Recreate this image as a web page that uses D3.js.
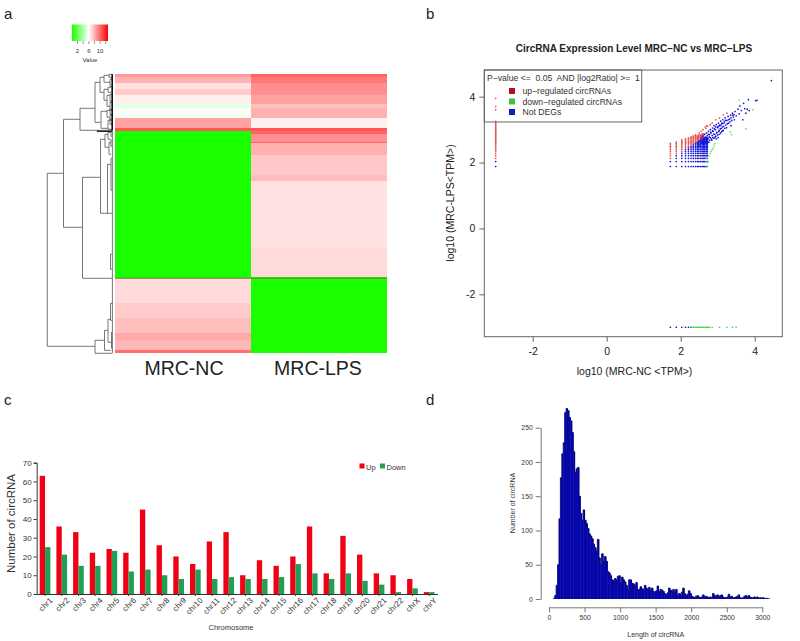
<!DOCTYPE html>
<html>
<head>
<meta charset="utf-8">
<script src="https://cdn.jsdelivr.net/npm/d3@7"></script>
<style>
body { margin: 0; background: #fff; }
svg { display: block; }
text { font-family: "Liberation Sans", Arial, sans-serif; }
</style>
</head>
<body>
<svg id="fig" width="800" height="641"></svg>
<script>
// panel a: heatmap bands, rows per band and value per sample
const sampleNames = ['MRC-NC', 'MRC-LPS'];
const bandRows = [3, 6, 6, 6, 9, 4, 10, 10, 3, 3, 8, 1, 12, 20, 6, 67, 29, 1, 25, 15, 15, 7, 10, 3];
const ncValues = [8.7, 8.1, 6.8, 7.4, 6.4, 5.3, 5.8, 8.5, 10.5, 0, 0, 0, 0, 0, 0, 0, 0, 0, 7, 7.4, 7.7, 8.3, 7.9, 9.8];
const lpsValues = [10.1, 9.6, 9, 9, 8.5, 7.7, 8.1, 6.4, 10.5, 10.1, 9, 10.1, 8.1, 7.5, 7.8, 6.8, 7, 0, 0, 0, 0, 0, 0, 0];
const keyTicks = [2, 4, 6, 8, 10, 12];
const keyLabels = [2, 6, 10];
// dendrogram merges: height, top row, top child height, bottom row, bottom child height
const merges = [
  [65.7, 99, 49.5, 272, 18], [49.5, 45, 33, 153, 30.5], [33, 34, 18, 56, 16], [30.5, 103, 12.5, 204, 1],
  [12.5, 65, 8, 139, 5.5], [18, 8, 13, 48, 12], [13, 3, 9, 18, 9], [9, 1, 4, 8, 3], [4, 0, 1, 3, 1], [3, 5, 1, 12, 1],
  [9, 15, 5, 26, 6], [5, 13, 2, 18, 2], [6, 21, 3, 32, 3], [3, 20, 1, 27, 1], [3, 28, 1, 36, 1],
  [12, 37, 6, 54, 5], [6, 36, 3, 43, 3], [3, 35, 1, 40, 1], [3, 41, 1, 46, 1], [5, 46, 3, 55, 1], [3, 45, 1, 50, 1],
  [16, 56, 1, 57, 1], [8, 60, 5, 73, 4], [5, 58, 2, 65, 2], [2, 57, 1, 62, 1], [4, 68, 2, 80, 2], [2, 66, 1, 72, 1],
  [5.5, 90, 2, 139, 1], [2, 84, 1, 116, 1], [2.5, 180, 1, 195, 1],
  [18, 266, 8.5, 279, 1], [8.5, 256, 5, 276, 2], [5, 245, 2.5, 268, 1.5], [2.5, 229, 1, 246, 1], [1.5, 258, 1, 274, 1]
];

// panel b: expression levels (log10 TPM)
const levels = [1.88, 2.03, 2.13, 2.21, 2.28, 2.34, 2.4, 2.45, 2.49, 2.54, 2.58, 2.62, 2.65, 2.69, 2.72, 2.75, 2.78, 2.81, 2.84, 2.87, 2.9];
const gridColumns = [1.72, 1.88, 2.03, 2.13, 2.21, 2.28, 2.34, 2.4, 2.45, 2.49, 2.54, 2.58, 2.62, 2.65, 2.69, 2.72];
const gridBlueTop = [1, 3, 4, 6, 7, 8, 9, 10, 11, 12, 13, 14, 15, 15, 15, 15];
const gridRedTop = [10, 11, 13, 14, 15, 16, 17, 18, 17, 18, 18, 19, 19, 15, 15, 15];
const cloudBlue = [[2.5, 2.52], [2.52, 2.66], [2.55, 2.6], [2.56, 2.75], [2.58, 2.68], [2.6, 2.62], [2.6, 2.8], [2.62, 2.56], [2.63, 2.72], [2.65, 2.86], [2.66, 2.63],
  [2.67, 2.7], [2.68, 2.78], [2.69, 2.6], [2.7, 2.67], [2.7, 2.9], [2.71, 2.74], [2.72, 2.82], [2.73, 2.62], [2.74, 2.72], [2.75, 2.95], [2.75, 2.86], [2.76, 2.62], [2.77, 2.78],
  [2.78, 2.85], [2.78, 2.68], [2.8, 2.76], [2.8, 3.0], [2.81, 2.92], [2.82, 2.9], [2.83, 2.72], [2.84, 2.68], [2.85, 2.82], [2.86, 3.05], [2.86, 2.96], [2.87, 2.76], [2.88, 2.95],
  [2.89, 2.86], [2.9, 2.74], [2.9, 3.12], [2.91, 3.02], [2.92, 2.86], [2.93, 2.78], [2.94, 3.0], [2.95, 2.8], [2.96, 3.15], [2.97, 2.9], [2.98, 2.92], [2.99, 3.08], [3.0, 3.06], [3.0, 2.84],
  [3.02, 3.2], [3.03, 2.94], [3.04, 2.98], [3.05, 3.14], [3.06, 3.12], [3.07, 3.02], [3.08, 2.9], [3.08, 3.26], [3.1, 3.04], [3.11, 3.2], [3.12, 3.18], [3.13, 2.96], [3.14, 3.3], [3.15, 2.98],
  [3.16, 3.1], [3.18, 3.24], [3.19, 3.04], [3.2, 3.36], [3.22, 3.14], [3.24, 3.06], [3.25, 3.28], [3.28, 3.4], [3.3, 3.2], [3.32, 3.32], [3.35, 3.44], [3.36, 3.12], [3.38, 3.28], [3.4, 3.5],
  [3.42, 3.38], [3.45, 3.3], [3.47, 3.55], [3.5, 3.42], [3.55, 3.62], [3.58, 3.48], [3.6, 3.72], [3.64, 3.58], [3.68, 3.3], [3.7, 3.8], [3.73, 3.64], [3.76, 3.5], [3.8, 3.62], [3.85, 3.58],
  [4.03, 3.88], [4.06, 3.89], [3.83, 3.91], [4.45, 4.49], [-3, 1.88], [-3, 2.03], [1.72, -3], [1.88, -3], [2.03, -3], [2.13, -3], [2.21, -3], [2.28, -3],
  [2.94, 3.08], [3.02, 3.1], [3.09, 3.14], [3.13, 3.08], [3.17, 3.2], [3.21, 3.28], [3.26, 3.18], [3.29, 3.3], [3.33, 3.24], [3.36, 3.36], [3.41, 3.44], [3.44, 3.46], [3.05, 2.86], [3.11, 2.94], [2.96, 2.72], [3.01, 2.76]];
const cloudRed = [[2.5, 2.9], [2.55, 2.95], [2.6, 3.0], [2.66, 3.08], [2.68, 3.04], [2.7, 3.12], [2.73, 3.1], [2.8, 3.15], [2.85, 3.2], [2.95, 3.3], [3.05, 3.35], [3.15, 3.45], [3.25, 3.5]];
const cloudGreen = [[2.72, 1.88], [2.7, 2.03], [2.75, 2.03], [2.7, 2.13], [2.76, 2.21], [2.8, 2.28], [2.82, 2.34], [2.85, 2.4], [2.88, 2.45], [2.9, 2.52], [2.93, 2.58],
  [3.34, 2.93], [3.37, 2.85], [3.76, 3.03], [3.95, 3.6], [3.58, 3.9]];
const leftColumnRed = [2.13, 2.21, 2.28, 2.34, 2.4, 2.45, 2.49, 2.54, 2.58, 2.62, 2.65, 2.69, 2.72, 2.75, 2.78, 2.81, 2.84, 2.87, 2.9, 2.93, 2.96, 2.99, 3.02, 3.05, 3.08, 3.11, 3.14, 3.17, 3.2, 3.25, 3.6, 3.7, 3.95];
const bottomRowGreen = [2.3, 2.33, 2.36, 2.39, 2.42, 2.45, 2.48, 2.51, 2.54, 2.57, 2.6, 2.63, 2.66, 2.69, 2.72, 2.75, 2.78, 2.85, 3.05, 3.25, 3.4, 3.5];
const scatterXTicks = [-2, 0, 2, 4];
const scatterYTicks = [-2, 0, 2, 4];
const legendNames = ['up\u2212regulated circRNAs', 'down\u2212regulated circRNAs', 'Not DEGs'];
const legendColors = ['#b01020', '#44c040', '#1020b0'];

// panel c: circRNA per chromosome
const chromosomes = ['chr1', 'chr2', 'chr3', 'chr4', 'chr5', 'chr6', 'chr7', 'chr8', 'chr9', 'chr10', 'chr11', 'chr12', 'chr13', 'chr14', 'chr15', 'chr16', 'chr17', 'chr18', 'chr19', 'chr20', 'chr21', 'chr22', 'chrX', 'chrY'];
const upCounts = [63, 36, 33, 22, 24, 22, 45, 26, 20, 16, 28, 33, 10, 18, 15, 20, 36, 11, 31, 21, 11, 10, 8, 1];
const downCounts = [25, 21, 15, 15, 23, 12, 13, 10, 8, 13, 8, 9, 8, 8, 9, 16, 11, 8, 11, 7, 5, 1, 3, 1];

// panel d: histogram of length, 20 wide bins starting at 60
const binStart = 60;
const binWidth = 20;
const lengthCounts = [1, 5, 20, 50, 117, 177, 212, 228, 272, 278, 275, 265, 260, 243, 215, 185, 190, 192, 150, 125, 115, 130, 115, 110, 103, 95, 92, 88, 80, 75, 70, 87, 60, 50, 66, 55, 62, 55, 40, 38,
  34, 28, 27, 30, 28, 33, 34, 24, 32, 28, 25, 20, 14, 28, 28, 23, 22, 19, 24, 14, 14, 18, 15, 14, 20, 16, 14, 17, 13, 16, 11, 10, 12, 19, 11, 14, 13, 11, 8, 6,
  9, 16, 13, 11, 14, 10, 14, 5, 8, 7, 10, 16, 8, 5, 7, 12, 8, 4, 3, 2, 4, 5, 3, 2, 3, 6, 3, 4, 3, 2, 3, 2, 8, 5, 4, 6, 3, 5, 6, 3,
  2, 2, 3, 7, 3, 4, 2, 2, 3, 4, 6, 2, 1, 2, 4, 5, 3, 5, 3, 2, 2, 3, 2, 3, 1, 2, 1, 2, 1, 1, 1, 1];

const svg = d3.select('#fig');

// panel letters
const panelLetters = [['a', 4, 19], ['b', 426, 19], ['c', 4, 405], ['d', 426, 405]];
svg.selectAll('.letter')
  .data(panelLetters)
  .join('text')
  .attr('class', 'letter')
  .attr('x', d => d[1])
  .attr('y', d => d[2])
  .attr('font-size', 15)
  .attr('fill', '#222')
  .text(d => d[0]);

// ---- a: heatmap ----
const heatColor = d3.scaleLinear().domain([0, 6, 12.8]).range(['#1aff00', '#ffffff', '#ff0000']);
const heatX = d3.scaleBand().domain(sampleNames).range([115, 387]);
const heatY = d3.scaleLinear().domain([0, d3.sum(bandRows)]).range([74.3, 353.3]);

const rowStarts = d3.cumsum([0].concat(bandRows));
const heatCells = [];
bandRows.forEach((n, i) => {
  heatCells.push({ s: sampleNames[0], r0: rowStarts[i], r1: rowStarts[i] + n, v: ncValues[i] });
  heatCells.push({ s: sampleNames[1], r0: rowStarts[i], r1: rowStarts[i] + n, v: lpsValues[i] });
});
svg.append('g').attr('shape-rendering', 'crispEdges').selectAll('rect')
  .data(heatCells)
  .join('rect')
  .attr('x', d => heatX(d.s))
  .attr('y', d => heatY(d.r0))
  .attr('width', heatX.bandwidth())
  .attr('height', d => heatY(d.r1) - heatY(d.r0))
  .attr('fill', d => heatColor(d.v));

// dark seam between the two big blocks
svg.append('rect')
  .attr('x', 115).attr('width', 272)
  .attr('y', heatY(203.4)).attr('height', 1)
  .attr('fill', '#6f7a30');

svg.selectAll('.sample')
  .data(sampleNames)
  .join('text')
  .attr('class', 'sample')
  .attr('x', d => heatX(d) + heatX.bandwidth() / 2 + (d === 'MRC-NC' ? 1 : -1))
  .attr('y', 374.5)
  .attr('text-anchor', 'middle')
  .attr('font-size', 19.5)
  .attr('fill', '#222')
  .text(d => d);

const dendroX = d3.scaleLinear().domain([0, 65.7]).range([113, 47.3]);
const dendroPath = d3.path();
merges.forEach(m => {
  dendroPath.moveTo(dendroX(m[2]), heatY(m[1]));
  dendroPath.lineTo(dendroX(m[0]), heatY(m[1]));
  dendroPath.lineTo(dendroX(m[0]), heatY(m[3]));
  dendroPath.lineTo(dendroX(m[4]), heatY(m[3]));
});
svg.append('path')
  .attr('d', dendroPath.toString())
  .attr('fill', 'none')
  .attr('stroke', '#555')
  .attr('stroke-width', 0.8);
// leaf edge of the tree
svg.append('line')
  .attr('x1', dendroX(0.6)).attr('x2', dendroX(0.6))
  .attr('y1', heatY(0)).attr('y2', heatY(279))
  .attr('stroke', '#555').attr('stroke-width', 0.8);
svg.append('line')
  .attr('x1', dendroX(0.8)).attr('x2', dendroX(0.8))
  .attr('y1', heatY(0)).attr('y2', heatY(56))
  .attr('stroke', '#111').attr('stroke-width', 1.6);
svg.append('line')
  .attr('x1', dendroX(16)).attr('x2', dendroX(1))
  .attr('y1', heatY(57)).attr('y2', heatY(57))
  .attr('stroke', '#111').attr('stroke-width', 1.2);

// colour key
const keyX = d3.scaleLinear().domain([0, 12.8]).range([71.9, 108]);
const keyGrad = svg.append('defs').append('linearGradient').attr('id', 'keyGrad');
keyGrad.selectAll('stop')
  .data(heatColor.domain())
  .join('stop')
  .attr('offset', d => d / 12.8)
  .attr('stop-color', d => heatColor(d));
svg.append('rect')
  .attr('x', keyX(0)).attr('y', 24.5)
  .attr('width', keyX(12.8) - keyX(0)).attr('height', 16.5)
  .attr('fill', 'url(#keyGrad)');
svg.selectAll('.keyTick')
  .data(keyTicks)
  .join('line')
  .attr('class', 'keyTick')
  .attr('x1', d => keyX(d)).attr('x2', d => keyX(d))
  .attr('y1', 41).attr('y2', 44)
  .attr('stroke', '#555').attr('stroke-width', 0.6);
svg.selectAll('.keyLabel')
  .data(keyLabels)
  .join('text')
  .attr('class', 'keyLabel')
  .attr('x', d => keyX(d)).attr('y', 53)
  .attr('text-anchor', 'middle')
  .attr('font-size', 6).attr('fill', '#333')
  .text(d => d);
svg.append('text')
  .attr('x', 90).attr('y', 61.5)
  .attr('text-anchor', 'middle')
  .attr('font-size', 6).attr('fill', '#333')
  .text('Value');

// ---- b: scatter ----
const scX = d3.scaleLinear().domain([-2, 4]).range([532.7, 754.7]);
const scY = d3.scaleLinear().domain([-2, 4]).range([294.3, 96.7]);

const scatterPoints = [];
gridColumns.forEach((x, i) => {
  levels.forEach((y, j) => {
    if (j <= gridBlueTop[i]) scatterPoints.push([x, y, '#1414d8']);
    else if (j <= gridRedTop[i]) scatterPoints.push([x, y, '#e25050']);
  });
});
cloudRed.forEach(p => scatterPoints.push([p[0], p[1], '#e25050']));
cloudBlue.forEach(p => scatterPoints.push([p[0], p[1], '#1414d8']));
cloudGreen.forEach(p => scatterPoints.push([p[0], p[1], '#66dd66']));
leftColumnRed.forEach(y => scatterPoints.push([-3, y, '#e25050']));
bottomRowGreen.forEach(x => scatterPoints.push([x, -3, '#44dd44']));

svg.append('g').selectAll('circle')
  .data(scatterPoints)
  .join('circle')
  .attr('cx', d => scX(d[0]))
  .attr('cy', d => scY(d[1]))
  .attr('r', 0.85)
  .attr('fill', d => d[2]);

const boxGrey = '#666';
svg.append('rect')
  .attr('x', 484.3).attr('y', 70)
  .attr('width', 298).attr('height', 266.7)
  .attr('fill', 'none').attr('stroke', boxGrey);

const scBottom = d3.axisBottom(scX).tickValues(scatterXTicks).tickSize(5).tickPadding(6).tickFormat(d => String(d));
const scLeft = d3.axisLeft(scY).tickValues(scatterYTicks).tickSize(5).tickPadding(4).tickFormat(d => String(d));
const scXg = svg.append('g').attr('transform', 'translate(0,336.7)').call(scBottom);
const scYg = svg.append('g').attr('transform', 'translate(484.3,0)').call(scLeft);
[scXg, scYg].forEach(g => {
  g.select('.domain').remove();
  g.selectAll('line').attr('stroke', boxGrey);
  g.selectAll('text').attr('font-size', 10.5).attr('fill', '#222').attr('font-family', '"Liberation Sans"');
});

svg.append('text')
  .attr('x', 634).attr('y', 52)
  .attr('text-anchor', 'middle')
  .attr('font-size', 10).attr('font-weight', 'bold').attr('fill', '#222')
  .text('CircRNA Expression Level MRC\u2212NC vs MRC\u2212LPS');
svg.append('text')
  .attr('x', 634.5).attr('y', 375)
  .attr('text-anchor', 'middle')
  .attr('font-size', 10.5).attr('fill', '#222')
  .text('log10 (MRC-NC <TPM>)');
svg.append('text')
  .attr('transform', 'translate(454,203) rotate(-90)')
  .attr('text-anchor', 'middle')
  .attr('font-size', 10.5).attr('fill', '#222')
  .text('log10 (MRC-LPS<TPM>)');

// legend box is open, the points show through it
svg.append('rect')
  .attr('x', 484.3).attr('y', 70)
  .attr('width', 157.4).attr('height', 52)
  .attr('fill', 'none').attr('stroke', boxGrey);
svg.append('text')
  .attr('x', 487).attr('y', 80.5)
  .attr('font-size', 8.6).attr('fill', '#333')
  .attr('xml:space', 'preserve')
  .style('white-space', 'pre')
  .text('P\u2212value <=  0.05  AND |log2Ratio| >=  1');
const legendRows = svg.append('g').selectAll('g')
  .data(legendNames)
  .join('g')
  .attr('transform', (_, i) => `translate(0, ${91 + i * 10.5})`);
legendRows.append('rect')
  .attr('x', 509).attr('y', -3)
  .attr('width', 6).attr('height', 6)
  .attr('fill', (_, i) => legendColors[i]);
legendRows.append('text')
  .attr('x', 522.5).attr('y', 3)
  .attr('font-size', 8.6).attr('fill', '#333')
  .text(d => d);

// ---- c: grouped bars ----
const barX = d3.scaleBand().domain(chromosomes).range([36.7, 437.5]).paddingInner(0.36).paddingOuter(0.18);
const barSeries = d3.scaleBand().domain(['up', 'down']).range([0, barX.bandwidth()]);
const barY = d3.scaleLinear().domain([0, 70]).range([594, 462.7]);
const upColor = '#f00014';
const downColor = '#1fa054';

const barGroups = svg.append('g').selectAll('g')
  .data(chromosomes)
  .join('g')
  .attr('transform', d => `translate(${barX(d)},0)`);
barGroups.append('rect')
  .attr('x', barSeries('up'))
  .attr('width', barSeries.bandwidth())
  .attr('y', (_, i) => barY(upCounts[i]))
  .attr('height', (_, i) => barY(0) - barY(upCounts[i]))
  .attr('fill', upColor);
barGroups.append('rect')
  .attr('x', barSeries('down'))
  .attr('width', barSeries.bandwidth())
  .attr('y', (_, i) => barY(downCounts[i]))
  .attr('height', (_, i) => barY(0) - barY(downCounts[i]))
  .attr('fill', downColor);

const barYg = svg.append('g').attr('transform', 'translate(36.7,0)')
  .call(d3.axisLeft(barY).ticks(7).tickSize(3).tickPadding(2).tickSizeOuter(3));
const barXg = svg.append('g').attr('transform', 'translate(0,594)')
  .call(d3.axisBottom(barX).tickSize(2).tickSizeOuter(0));
[barXg, barYg].forEach(g => {
  g.select('.domain').attr('stroke', '#333');
  g.selectAll('line').attr('stroke', '#333');
  g.selectAll('text').attr('font-family', '"Open Sans"').attr('fill', '#333').attr('font-size', 8);
});
barXg.selectAll('text')
  .attr('text-anchor', 'end')
  .attr('transform', 'rotate(-45)')
  .attr('dx', '0.1em').attr('dy', '0.7em');

svg.append('text')
  .attr('transform', 'translate(15,523.5) rotate(-90)')
  .attr('text-anchor', 'middle')
  .attr('font-family', '"Open Sans"')
  .attr('font-size', 11.5).attr('fill', '#333')
  .text('Number of circRNA');
svg.append('text')
  .attr('x', 231).attr('y', 630)
  .attr('text-anchor', 'middle')
  .attr('font-family', '"Open Sans"')
  .attr('font-size', 7.5).attr('fill', '#333')
  .text('Chromosome');
const barLegend = [['Up', upColor, 359.5], ['Down', downColor, 380]];
const barLegendG = svg.append('g').selectAll('g')
  .data(barLegend)
  .join('g')
  .attr('transform', d => `translate(${d[2]},462)`);
barLegendG.append('rect')
  .attr('y', 1.5).attr('width', 5).attr('height', 5)
  .attr('fill', d => d[1]);
barLegendG.append('text')
  .attr('x', 6.5).attr('y', 8)
  .attr('font-family', '"Open Sans"')
  .attr('font-size', 7.5).attr('fill', '#333')
  .text(d => d[0]);

// ---- d: histogram ----
const histX = d3.scaleLinear().domain([0, 3000]).range([549, 762.3]);
const histY = d3.scaleLinear().domain([0, 250]).range([599, 427.7]);

// slight overlap so no white shows between the thin bars
svg.append('g').selectAll('rect')
  .data(lengthCounts)
  .join('rect')
  .attr('x', (_, i) => histX(binStart + i * binWidth))
  .attr('width', histX(binWidth) - histX(0) + 0.5)
  .attr('y', d => histY(d))
  .attr('height', d => histY(0) - histY(d))
  .attr('fill', '#0606a8');

const histOutline = d3.line()
  .x((_, i) => histX(binStart + i * binWidth))
  .y(d => histY(d))
  .curve(d3.curveStepAfter);
svg.append('path')
  .attr('d', histOutline(lengthCounts))
  .attr('fill', 'none')
  .attr('stroke', '#00006c')
  .attr('stroke-width', 0.8);

const histXg = svg.append('g').attr('transform', 'translate(0,607.3)')
  .call(d3.axisBottom(histX).tickValues([0, 500, 1000, 1500, 2000, 2500, 3000]).tickSize(5).tickSizeOuter(0).tickFormat(d3.format('d')).tickPadding(3));
const histYg = svg.append('g').attr('transform', 'translate(540.7,0)')
  .call(d3.axisLeft(histY).tickValues([0, 50, 100, 150, 200, 250]).tickSize(5).tickSizeOuter(0).tickPadding(3));
[histXg, histYg].forEach(g => {
  g.select('.domain').attr('stroke', '#777');
  g.selectAll('line').attr('stroke', '#777');
  g.selectAll('text').attr('font-family', '"Liberation Sans"').attr('font-size', 6.8).attr('fill', '#333');
});
svg.append('text')
  .attr('x', 655.7).attr('y', 637)
  .attr('text-anchor', 'middle')
  .attr('font-size', 7).attr('fill', '#333')
  .text('Length of circRNA');
svg.append('text')
  .attr('transform', 'translate(515,503) rotate(-90)')
  .attr('text-anchor', 'middle')
  .attr('font-size', 7).attr('fill', '#333')
  .text('Number of circRNA');
</script>
</body>
</html>
